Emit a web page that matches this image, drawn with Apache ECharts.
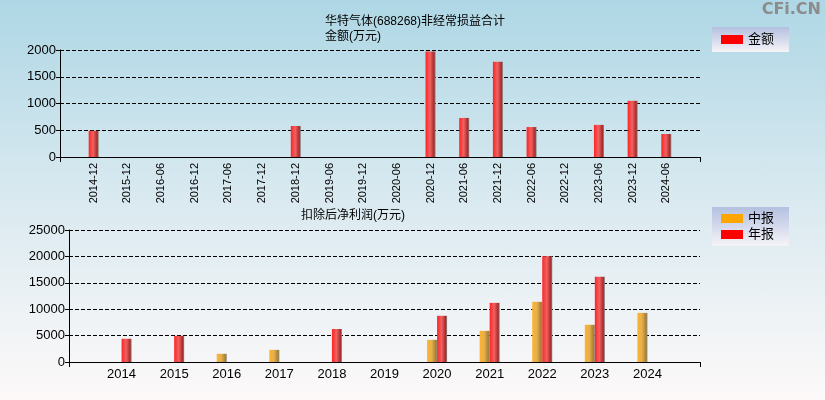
<!DOCTYPE html>
<html>
<head>
<meta charset="utf-8">
<script src="https://cdn.jsdelivr.net/npm/echarts@6/dist/echarts.min.js"></script>
<style>
  html, body { margin: 0; padding: 0; }
  body { background: linear-gradient(to bottom, #aed7e5 0%, #d6e8ef 45%, #fdf9f9 100%); }
  #chart { width: 825px; height: 400px; }
</style>
</head>
<body>
<div id="chart"></div>
<script>
// 非经常损益合计 (万元)
const periods = ['2014-12', '2015-12', '2016-06', '2016-12', '2017-06', '2017-12', '2018-12', '2019-06', '2019-12',
  '2020-06', '2020-12', '2021-06', '2021-12', '2022-06', '2022-12', '2023-06', '2023-12', '2024-06']
const nonRecurring = [490, null, null, null, null, null, 580, null, null, null, 1970, 730, 1780, 560, null, 600, 1050, 430]

// 扣除后净利润 (万元)
const years = ['2014', '2015', '2016', '2017', '2018', '2019', '2020', '2021', '2022', '2023', '2024']
const interim = [null, null, 1550, 2300, null, null, 4200, 5900, 11400, 7050, 9300]
const annual = [4400, 4950, null, null, 6250, null, 8750, 11200, 20050, 16150, null]

const font = 'Liberation Sans, Noto Sans CJK SC, sans-serif'

// pad both ends so the categories sit one step in from the axis ends
const pad = (arr) => [''].concat(arr, [''])
const padVal = (arr) => [null].concat(arr, [null])

const barColor = (c1, c2, c3) => ({
  type: 'linear', x: 0, y: 0, x2: 1, y2: 0,
  colorStops: [
    { offset: 0, color: c1 },
    { offset: 0.45, color: c2 },
    { offset: 0.85, color: c3 },
    { offset: 1, color: '#8a8a8a' }
  ]
})
const red = barColor('#ff2323', '#f06262', '#a82a2a')
const orange = barColor('#ffb22a', '#e6b050', '#a8822e')

const legendBg = {
  type: 'linear', x: 0, y: 0, x2: 0, y2: 1,
  colorStops: [{ offset: 0, color: '#b3c0df' }, { offset: 1, color: '#f6f4f8' }]
}

const plain = (v) => String(v)

const chart = echarts.init(document.getElementById('chart'))

const option = {
  backgroundColor: 'transparent',
  animation: false,
  textStyle: { fontFamily: font },
  title: [
    {
      text: '华特气体(688268)非经常损益合计\n金额(万元)',
      left: 320, top: 9,
      textStyle: { fontSize: 12, fontWeight: 'normal', color: '#000', lineHeight: 15, fontFamily: font }
    },
    {
      text: '扣除后净利润(万元)',
      left: 296, top: 205,
      textStyle: { fontSize: 12, fontWeight: 'normal', color: '#000', fontFamily: font }
    }
  ],
  legend: [
    {
      data: [{ name: '金额', itemStyle: { color: '#ff0000' } }],
      left: 712, top: 27,
      padding: [6, 15, 6, 9],
      itemWidth: 22, itemHeight: 9, itemGap: 4,
      orient: 'vertical',
      backgroundColor: legendBg,
      textStyle: { fontSize: 13, color: '#000', fontFamily: font },
      icon: 'rect'
    },
    {
      data: [
        { name: '中报', itemStyle: { color: '#ffa500' } },
        { name: '年报', itemStyle: { color: '#ff0000' } }
      ],
      left: 712, top: 207,
      padding: [5, 15, 5, 9],
      itemWidth: 22, itemHeight: 9, itemGap: 3,
      orient: 'vertical',
      backgroundColor: legendBg,
      textStyle: { fontSize: 13, color: '#000', fontFamily: font },
      icon: 'rect'
    }
  ],
  graphic: [
    {
      type: 'text', right: 4, top: 2,
      style: { text: 'CFi.CN', font: 'bold 16px DejaVu Sans, sans-serif', fill: '#8c8c8c' }
    }
  ],
  grid: [
    { left: 60, right: 125, top: 50, bottom: 243 },
    { left: 69, right: 125, top: 230, bottom: 38 }
  ],
  xAxis: [
    {
      gridIndex: 0,
      type: 'category',
      boundaryGap: false,
      data: pad(periods),
      axisLine: { lineStyle: { color: '#000', width: 1 } },
      axisTick: { length: 5, interval: (i) => i === 0 || i === periods.length + 1, lineStyle: { color: '#000' } },
      axisLabel: { rotate: 90, interval: 0, fontSize: 11, color: '#000', margin: 6 },
      splitLine: { show: false }
    },
    {
      gridIndex: 1,
      type: 'category',
      boundaryGap: false,
      data: pad(years),
      axisLine: { lineStyle: { color: '#000', width: 1 } },
      axisTick: { length: 5, interval: (i) => i === 0 || i === years.length + 1, lineStyle: { color: '#000' } },
      axisLabel: { interval: 0, fontSize: 13, color: '#000', margin: 6 },
      splitLine: { show: false }
    }
  ],
  yAxis: [
    {
      gridIndex: 0,
      type: 'value',
      min: 0, max: 2000, interval: 500,
      axisLine: { show: true, lineStyle: { color: '#000' } },
      axisTick: { show: true, length: 4, lineStyle: { color: '#000' } },
      axisLabel: { fontSize: 13, color: '#000', margin: 4, formatter: plain },
      splitLine: { lineStyle: { color: '#000', type: [4, 2] } }
    },
    {
      gridIndex: 1,
      type: 'value',
      min: 0, max: 25000, interval: 5000,
      axisLine: { show: true, lineStyle: { color: '#000' } },
      axisTick: { show: true, length: 4, lineStyle: { color: '#000' } },
      axisLabel: { fontSize: 13, color: '#000', margin: 4, formatter: plain },
      splitLine: { lineStyle: { color: '#000', type: [4, 2] } }
    }
  ],
  series: [
    {
      name: '金额',
      type: 'bar',
      xAxisIndex: 0, yAxisIndex: 0,
      barWidth: 10,
      data: padVal(nonRecurring),
      itemStyle: { color: red }
    },
    {
      name: '中报',
      type: 'bar',
      xAxisIndex: 1, yAxisIndex: 1,
      barWidth: 10, barGap: '0%',
      data: padVal(interim),
      itemStyle: { color: orange }
    },
    {
      name: '年报',
      type: 'bar',
      xAxisIndex: 1, yAxisIndex: 1,
      barWidth: 10, barGap: '0%',
      data: padVal(annual),
      itemStyle: { color: red }
    }
  ]
}

chart.setOption(option)
</script>
</body>
</html>
